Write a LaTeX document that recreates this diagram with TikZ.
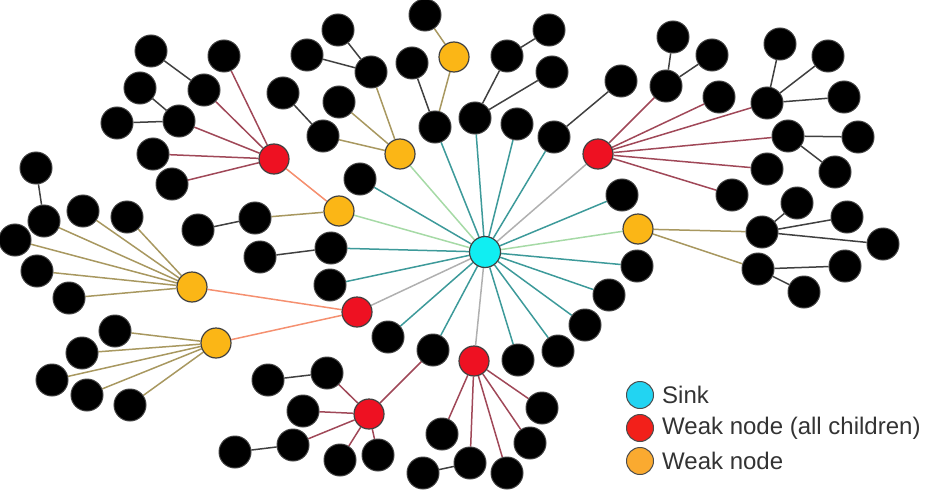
\documentclass[tikz,border=0pt]{standalone}
\usepackage{fontspec}
\setmainfont{Liberation Sans}
\pgfdeclarelayer{bg}
\pgfsetlayers{bg,main}
\definecolor{cteal}{HTML}{3D9A9A}
\definecolor{cgreen}{HTML}{A6DAA6}
\definecolor{cgray}{HTML}{B0B0B0}
\definecolor{cmaroon}{HTML}{A04858}
\definecolor{corange}{HTML}{F59070}
\definecolor{ctan}{HTML}{A89860}
\definecolor{cblk}{HTML}{404040}
\definecolor{csink}{HTML}{10EEF2}
\definecolor{cred}{HTML}{EE1122}
\definecolor{cyel}{HTML}{FBB616}
\definecolor{lsink}{HTML}{22D4F2}
\definecolor{lred}{HTML}{F2201A}
\definecolor{lyel}{HTML}{FAAA30}
\definecolor{txt}{HTML}{333333}
\begin{document}
\begin{tikzpicture}[x=1pt,y=-1pt,
  blk/.style={circle,fill=black,draw=black!75,line width=1pt,minimum size=32pt,inner sep=0pt},
  sinkn/.style={circle,fill=csink,draw=black!75,line width=1.2pt,minimum size=31pt,inner sep=0pt},
  weakall/.style={circle,fill=cred,draw=black!75,line width=1.2pt,minimum size=30pt,inner sep=0pt},
  weakn/.style={circle,fill=cyel,draw=black!75,line width=1.2pt,minimum size=30pt,inner sep=0pt},
  legc/.style={circle,draw=black!70,line width=1pt,minimum size=27pt,inner sep=0pt},
  legt/.style={anchor=west,text=txt,font=\fontsize{24}{28}\selectfont,inner sep=0pt},
  et/.style={draw=cteal,line width=1.5pt},
  eg/.style={draw=cgreen,line width=1.5pt},
  egr/.style={draw=cgray,line width=1.5pt},
  em/.style={draw=cmaroon,line width=1.5pt},
  eo/.style={draw=corange,line width=1.5pt},
  en/.style={draw=ctan,line width=1.5pt},
  eb/.style={draw=cblk,line width=1.5pt}]
\useasboundingbox (0,0) rectangle (925,492);
% special nodes
\node[sinkn] (S) at (485,252) {};
\node[weakall] (R1) at (274,159) {};
\node[weakall] (R2) at (598,154) {};
\node[weakall] (R3) at (357,312) {};
\node[weakall] (R4) at (474,361) {};
\node[weakall] (R5) at (369,414) {};
\node[weakn] (O1) at (339,211) {};
\node[weakn] (O2) at (192,287) {};
\node[weakn] (O3) at (454,57) {};
\node[weakn] (O4) at (400,154) {};
\node[weakn] (O5) at (638,229) {};
\node[weakn] (O6) at (216,343) {};
% black nodes
\foreach \n/\x/\y in {a1/151/51,a2/224/56,a3/140/88,a4/204/90,a5/117/123,a6/179/121,a7/153/154,a8/172/184,
  a9/36/168,a10/44/221,a11/83/211,a12/127/217,a13/15/240,a14/198/230,a15/255/218,
  b1/338/30,b2/307/55,b3/371/72,b4/425/15,b5/412/63,b6/339/102,b7/323/136,b8/435/127,b9/475/118,
  b10/507/56,b11/549/30,b12/552/72,b13/517/124,b14/554/137,b15/621/81,b16/360/179,b17/622/195,c0/283/93,
  c1/673/37,c2/712/55,c3/666/86,c5/719/97,c6/780/44,c7/828/56,c8/767/103,c9/844/97,c10/788/136,
  c11/858/137,c12/767/169,c13/835/172,c14/732/195,c16/797/203,c17/847/217,c18/762/232,c19/883/244,
  c20/758/269,c21/845/266,c22/804/292,
  d1/637/266,d2/609/295,f7/585/325,f6/558/351,f5/518/360,f4/433/350,f3/388/337,f2/330/285,f1/331/248,
  e2/37/271,e3/69/298,e4/260/257,e5/115/331,e6/82/353,e7/52/380,e8/87/395,e9/130/405,e10/268/380,
  e11/303/411,e12/235/452,e13/293/445,
  f9/327/373,f12/340/460,f13/378/455,f14/442/434,f15/542/408,f16/530/443,f17/470/463,f18/423/473,f19/507/473}
  {\node[blk] (\n) at (\x,\y) {};}
% legend
\node[legc,fill=lsink] (l1) at (640,395) {};
\node[legc,fill=lred] (l2) at (640,428) {};
\node[legc,fill=lyel] (l3) at (640,461) {};
\node[legt] (t1) at (662,395) {Sink};
\node[legt] (t2) at (662,428) {Weak node (all children)};
\node[legt] (t3) at (662,461) {Weak node};
\begin{pgfonlayer}{bg}
% sink edges
\foreach \n in {b16,b8,b9,b13,b14,b17,d1,d2,f7,f6,f5,f4,f3,f2,f1}
  {\draw[et] (S) -- (\n);}
\foreach \n in {O1,O4,O5} {\draw[eg] (S) -- (\n);}
\foreach \n in {R2,R3,R4} {\draw[egr] (S) -- (\n);}
% weak (all children) edges
\foreach \n in {a2,a4,a6,a7,a8} {\draw[em] (R1) -- (\n);}
\foreach \n in {c3,c5,c8,c10,c12,c14} {\draw[em] (R2) -- (\n);}
\foreach \n in {f14,f15,f16,f17,f19} {\draw[em] (R4) -- (\n);}
\foreach \n in {f4,f9,e11,e13,f12,f13} {\draw[em] (R5) -- (\n);}
\draw[eo] (R1) -- (O1);
\draw[eo] (R3) -- (O2);
\draw[eo] (R3) -- (O6);
% weak node edges
\draw[en] (O1) -- (a15);
\foreach \n in {a10,a11,a12,a13,e2,e3} {\draw[en] (O2) -- (\n);}
\foreach \n in {b4,b8} {\draw[en] (O3) -- (\n);}
\foreach \n in {b3,b6,b7} {\draw[en] (O4) -- (\n);}
\foreach \n in {c18,c20} {\draw[en] (O5) -- (\n);}
\foreach \n in {e5,e6,e7,e8,e9} {\draw[en] (O6) -- (\n);}
% black edges
\foreach \u/\v in {a1/a4,a3/a6,a5/a6,a9/a10,a14/a15,c0/b7,b1/b3,b2/b3,b5/b8,b10/b9,b11/b10,b12/b9,
  b15/b14,c1/c3,c2/c3,c6/c8,c7/c8,c9/c8,c10/c11,c10/c13,c16/c18,c17/c18,c19/c18,c20/c21,c20/c22,
  e4/f1,e10/f9,e12/e13,f18/f17}
  {\draw[eb] (\u) -- (\v);}
\end{pgfonlayer}
\end{tikzpicture}
\end{document}
